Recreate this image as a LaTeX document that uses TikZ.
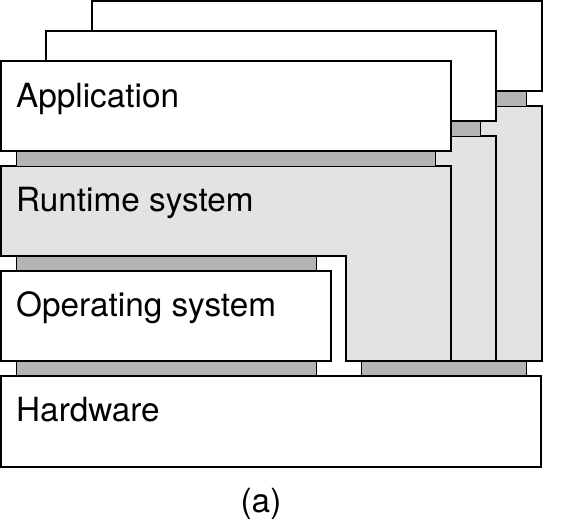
\documentclass[tikz,border=0pt]{standalone}
\usepackage{fontspec}
\setmainfont{TeX Gyre Heros}
\definecolor{rtfill}{RGB}{227,227,227}
\definecolor{barfill}{RGB}{180,180,180}
\begin{document}
\begin{tikzpicture}[x=1pt,y=-1pt,
  layerbox/.style={draw=black,line width=1.8pt,fill=white},
  rtbox/.style={draw=black,line width=1.8pt,fill=rtfill},
  glue/.style={draw=black,line width=0.9pt,fill=barfill},
  lbl/.style={anchor=base west,inner sep=0pt,font=\fontsize{33.3}{40}\selectfont}]
\useasboundingbox (0,0) rectangle (575,519);

% one application/runtime stack, shifted by (#1,#2); #3 = x of the runtime step
\newcommand{\appstack}[3]{%
  \draw[rtbox] (1+#1,166+#2) -- (451+#1,166+#2) -- (451+#1,361) -- (#3,361)
        -- (#3,256+#2) -- (1+#1,256+#2) -- cycle;
  \draw[glue] (16+#1,151+#2) rectangle (435+#1,166+#2);
  \draw[layerbox] (1+#1,61+#2) rectangle (451+#1,151+#2);
}

% stacks further back first
\appstack{91}{-60}{437}
\appstack{45}{-30}{391}
\appstack{0}{0}{346}

% operating system and hardware
\draw[glue] (16,256) rectangle (316,271);
\draw[layerbox] (1,271) rectangle (331,361);
\draw[glue] (16,361) rectangle (316,376);
\draw[glue] (361,361) rectangle (526,376);
\draw[layerbox] (1,376) rectangle (541,467);

% labels
\node[lbl] (app) at (16,107) {Application};
\node[lbl] (rts) at (16,211) {Runtime system};
\node[lbl] (os)  at (16,316) {Operating system};
\node[lbl] (hw)  at (16,421) {Hardware};
\node[anchor=base,inner sep=0pt,font=\fontsize{33.3}{40}\selectfont] (cap) at (261,512) {(a)};
\end{tikzpicture}
\end{document}
